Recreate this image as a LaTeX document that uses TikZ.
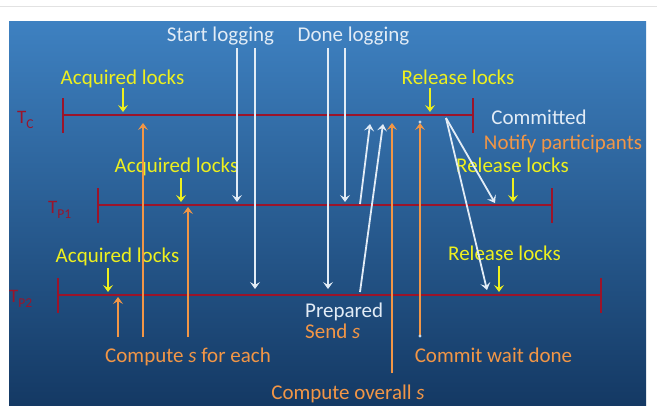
\documentclass[tikz,border=0pt]{standalone}
\usepackage{fontspec}
\setmainfont{Carlito}
\usetikzlibrary{arrows.meta}

\definecolor{bgtop}{RGB}{62,129,193}
\definecolor{bgbot}{RGB}{20,57,100}
\definecolor{tline}{RGB}{155,20,42}
\definecolor{lockyel}{RGB}{238,240,30}
\definecolor{logwhite}{RGB}{226,236,246}
\definecolor{calcor}{RGB}{242,150,70}
\definecolor{rulegray}{RGB}{226,226,226}

\newcommand{\tsub}[1]{{\fontsize{13.5}{15}\selectfont\raisebox{-5pt}{#1}}}

\begin{document}
\begin{tikzpicture}[x=1pt,y=-1pt,
  lbl/.style={font=\fontsize{21}{25}\selectfont, inner sep=0pt, anchor=base},
  locklbl/.style={lbl, text=lockyel},
  loglbl/.style={lbl, text=logwhite},
  calclbl/.style={lbl, text=calcor},
  tname/.style={font=\fontsize{19}{22}\selectfont, text=tline, inner sep=0pt, anchor=base west},
  timeline/.style={draw=tline, line width=2.6pt},
  tip/.style={-{Stealth[length=7pt,width=10pt,inset=3pt]}},
  yarr/.style={draw=lockyel, line width=2.4pt, tip},
  warr/.style={draw=logwhite, line width=1.8pt, tip},
  oarr/.style={draw=calcor, line width=2pt, tip},
]

\useasboundingbox (0,0) rectangle (657,418);
\fill[white] (0,0) rectangle (657,418);
\draw[rulegray, line width=1pt] (0,6) -- (657,6);
\shade[top color=bgtop, bottom color=bgbot] (9,21) rectangle (646,405);

% ---------- time lines ----------
\coordinate (c0) at (63,115);  \coordinate (c1) at (473,115);
\coordinate (p0) at (98,205);  \coordinate (p1) at (552,205);
\coordinate (q0) at (58,295);  \coordinate (q1) at (601,295);
\foreach \a/\b in {c0/c1, p0/p1, q0/q1}{
  \draw[timeline] (\a) -- (\b);
  \draw[timeline] ([yshift=17pt]\a) -- ([yshift=-18pt]\a);
  \draw[timeline] ([yshift=17pt]\b) -- ([yshift=-18pt]\b);
}
\node[tname] (tc) at (17,123) {T\tsub{C}};
\node[tname] (tp1) at (48,213) {T\tsub{P1}};
\node[tname] (tp2) at (9,302) {T\tsub{P2}};

% ---------- lock labels ----------
\node[locklbl] (aq1) at (122.5,84) {Acquired locks};
\node[locklbl] (aq2) at (176.5,172) {Acquired locks};
\node[locklbl] (aq3) at (117.5,262) {Acquired locks};
\node[locklbl] (rl1) at (458,84) {Release locks};
\node[locklbl] (rl2) at (512.5,172) {Release locks};
\node[locklbl] (rl3) at (504.5,260) {Release locks};

\coordinate (ya1) at (123,88);  \coordinate (yb1) at (123,112);
\coordinate (ya2) at (181,178); \coordinate (yb2) at (181,202);
\coordinate (ya3) at (108,268); \coordinate (yb3) at (108,292);
\coordinate (ya4) at (430,88);  \coordinate (yb4) at (430,112);
\coordinate (ya5) at (513,178); \coordinate (yb5) at (513,202);
\coordinate (ya6) at (499,266); \coordinate (yb6) at (499,292);
\foreach \i in {1,...,6}{\draw[yarr] (ya\i) -- (yb\i);}

% ---------- logging ----------
\node[loglbl] (slog) at (220.5,41) {Start logging};
\node[loglbl] (dlog) at (353.5,41) {Done logging};
\coordinate (w1a) at (237,48); \coordinate (w1b) at (237,202);
\coordinate (w2a) at (255,48); \coordinate (w2b) at (255,289);
\coordinate (w3a) at (328,48); \coordinate (w3b) at (328,289);
\coordinate (w4a) at (345,48); \coordinate (w4b) at (345,202);
\foreach \i in {1,...,4}{\draw[warr] (w\i a) -- (w\i b);}

% prepared votes back to the coordinator
\coordinate (v1a) at (360,204); \coordinate (v1b) at (370,124);
\coordinate (v2a) at (360,292); \coordinate (v2b) at (383,124);
\draw[warr] (v1a) -- (v1b);
\draw[warr] (v2a) -- (v2b);

% commit notifications to the participants
\coordinate (n0) at (446,118);
\coordinate (n1) at (495,203);
\coordinate (n2) at (487,290);
\draw[warr] (n0) -- (n1);
\draw[warr] (n0) -- (n2);

\node[loglbl] (comm) at (539,124) {Committed};
\node[calclbl] (notif) at (563,149) {Notify participants};
\node[loglbl, anchor=base west] (prep) at (305,317) {Prepared};
\node[calclbl, anchor=base west] (send) at (305,338) {Send \textit{s}};

% ---------- timestamp computation ----------
\coordinate (o1a) at (143,337); \coordinate (o1b) at (143,123);
\coordinate (o2a) at (188,337); \coordinate (o2b) at (188,207);
\coordinate (o3a) at (118,337); \coordinate (o3b) at (118,297);
\coordinate (o4a) at (392,373); \coordinate (o4b) at (392,123);
\coordinate (o5a) at (420,336); \coordinate (o5b) at (420,123);
\foreach \i in {1,...,5}{\draw[oarr] (o\i a) -- (o\i b);}
\fill[logwhite!80!bgtop] (o5a) circle (1.6pt);
\fill[logwhite!80!bgtop] ([yshift=1pt]o5b) circle (1.6pt);

\node[calclbl] (cse) at (188,362) {Compute \textit{s} for each};
\node[calclbl] (cwd) at (493.5,362) {Commit wait done};
\node[calclbl] (cos) at (348,399) {Compute overall \textit{s}};
\end{tikzpicture}
\end{document}
